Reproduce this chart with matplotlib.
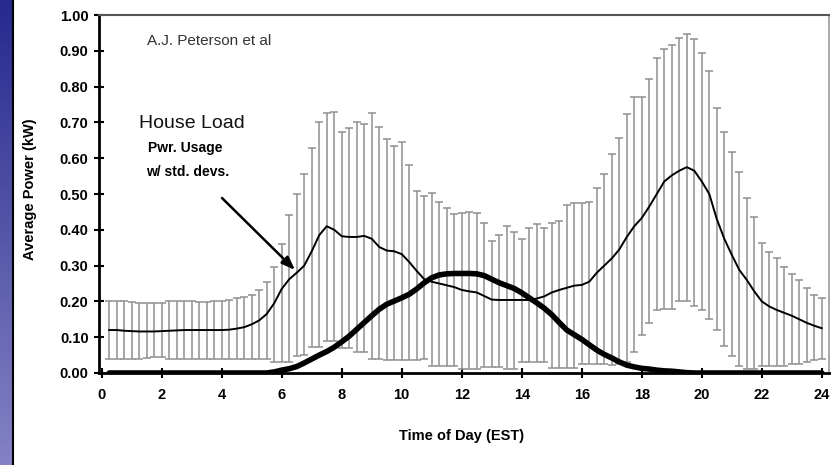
import numpy as np
import matplotlib
matplotlib.use("Agg")
import matplotlib.pyplot as plt
from matplotlib.colors import LinearSegmentedColormap

# time of day, 15 minute steps
hours = [0.25 * (i + 1) for i in range(96)]

# house load mean (kW)
mean_load = [
    0.120, 0.120, 0.118, 0.117, 0.116, 0.116, 0.116, 0.117,
    0.118, 0.119, 0.120, 0.120, 0.120, 0.120, 0.120, 0.120,
    0.121, 0.124, 0.128, 0.136, 0.147, 0.165, 0.195, 0.235,
    0.262, 0.280, 0.300, 0.340, 0.385, 0.410, 0.400, 0.382,
    0.380, 0.380, 0.383, 0.375, 0.352, 0.342, 0.340, 0.332,
    0.310, 0.285, 0.262, 0.255, 0.250, 0.245, 0.240, 0.232,
    0.228, 0.225, 0.215, 0.205, 0.204, 0.204, 0.204, 0.204,
    0.204, 0.208, 0.214, 0.225, 0.232, 0.238, 0.244, 0.246,
    0.255, 0.280, 0.300, 0.320, 0.345, 0.380, 0.410, 0.433,
    0.465, 0.500, 0.535, 0.552, 0.565, 0.575, 0.565, 0.535,
    0.500, 0.430, 0.375, 0.330, 0.288, 0.260, 0.228, 0.200,
    0.186, 0.176, 0.168, 0.160, 0.150, 0.140, 0.132, 0.125,
]

# top of std. dev. bars
upper = [
    0.200, 0.200, 0.200, 0.197, 0.195, 0.195, 0.195, 0.195,
    0.200, 0.200, 0.202, 0.202, 0.198, 0.198, 0.202, 0.202,
    0.205, 0.210, 0.212, 0.218, 0.232, 0.254, 0.296, 0.360,
    0.440, 0.500, 0.555, 0.628, 0.700, 0.726, 0.730, 0.673,
    0.684, 0.700, 0.695, 0.726, 0.687, 0.654, 0.634, 0.645,
    0.581, 0.508, 0.495, 0.503, 0.478, 0.460, 0.444, 0.447,
    0.450, 0.447, 0.419, 0.369, 0.385, 0.410, 0.394, 0.374,
    0.405, 0.416, 0.405, 0.419, 0.425, 0.470, 0.475, 0.475,
    0.478, 0.517, 0.556, 0.612, 0.656, 0.723, 0.770, 0.770,
    0.820, 0.880, 0.905, 0.916, 0.936, 0.947, 0.933, 0.894,
    0.844, 0.740, 0.673, 0.617, 0.561, 0.489, 0.436, 0.363,
    0.338, 0.321, 0.296, 0.276, 0.260, 0.237, 0.218, 0.210,
]

# bottom of std. dev. bars
lower = [
    0.040, 0.040, 0.040, 0.040, 0.040, 0.042, 0.044, 0.044,
    0.040, 0.040, 0.040, 0.040, 0.040, 0.040, 0.040, 0.040,
    0.040, 0.040, 0.040, 0.040, 0.040, 0.040, 0.030, 0.030,
    0.030, 0.047, 0.050, 0.073, 0.073, 0.090, 0.090, 0.070,
    0.070, 0.060, 0.060, 0.040, 0.040, 0.036, 0.036, 0.037,
    0.037, 0.037, 0.040, 0.020, 0.020, 0.020, 0.020, 0.012,
    0.012, 0.012, 0.018, 0.018, 0.018, 0.012, 0.012, 0.030,
    0.030, 0.030, 0.030, 0.015, 0.015, 0.015, 0.015, 0.026,
    0.026, 0.026, 0.026, 0.022, 0.025, 0.030, 0.060, 0.105,
    0.140, 0.175, 0.180, 0.180, 0.200, 0.200, 0.187, 0.175,
    0.152, 0.120, 0.075, 0.047, 0.020, 0.010, 0.010, 0.020,
    0.020, 0.020, 0.020, 0.026, 0.026, 0.030, 0.036, 0.040,
]

# PV output (thick line)
pv = [
    0, 0, 0, 0, 0, 0, 0, 0,
    0, 0, 0, 0, 0, 0, 0, 0,
    0, 0, 0, 0, 0, 0, 0.003, 0.008,
    0.012, 0.018, 0.028, 0.039, 0.050, 0.060, 0.072, 0.087,
    0.103, 0.122, 0.141, 0.160, 0.178, 0.192, 0.201, 0.210,
    0.220, 0.235, 0.252, 0.266, 0.274, 0.277, 0.278, 0.278,
    0.278, 0.277, 0.272, 0.262, 0.252, 0.244, 0.236, 0.224,
    0.210, 0.196, 0.181, 0.163, 0.141, 0.120, 0.107, 0.094,
    0.079, 0.064, 0.052, 0.042, 0.031, 0.022, 0.017, 0.013,
    0.011, 0.008, 0.006, 0.005, 0.003, 0.001, 0, 0,
    0, 0, 0, 0, 0, 0, 0, 0,
    0, 0, 0, 0, 0, 0, 0, 0,
]

xticks = [0, 2, 4, 6, 8, 10, 12, 14, 16, 18, 20, 22, 24]
yticks = [0.0, 0.1, 0.2, 0.3, 0.4, 0.5, 0.6, 0.7, 0.8, 0.9, 1.0]

plt.rcParams['font.family'] = ['Liberation Sans', 'DejaVu Sans']

W, H = 838, 465
fig = plt.figure(figsize=(W / 100, H / 100), dpi=100)

# blue strip on the left
strip = fig.add_axes([0, 0, 12 / W, 1])
cmap = LinearSegmentedColormap.from_list("strip", ["#262a8e", "#8482c4"])
strip.imshow(np.linspace(0, 1, 100).reshape(-1, 1), aspect="auto", cmap=cmap)
strip.axis("off")
fig.add_artist(plt.Line2D([13 / W, 13 / W], [0, 1], color="black", lw=1.5))

ax = fig.add_axes([99 / W, 1 - 373 / H, (829 - 99) / W, (373 - 15) / H])

mean_arr = np.array(mean_load)
yerr = [mean_arr - np.array(lower), np.array(upper) - mean_arr]
ax.errorbar(hours, mean_load, yerr=yerr, fmt="none", ecolor="#8f8f8f",
            elinewidth=1.1, capsize=3, capthick=1.1, zorder=2)
ax.plot(hours, mean_load, color="black", lw=1.4, zorder=3)
ax.plot(hours, pv, color="black", lw=4, solid_capstyle="round", zorder=4)

ax.set_xlim(-0.09, 24.24)
ax.set_ylim(0, 1.0)
ax.set_xticks(xticks)
ax.set_yticks(yticks)
ax.set_yticklabels(["%.2f" % v for v in yticks])
ax.tick_params(axis="both", direction="inout", length=7, width=1.5,
               labelsize=10.5)
ax.tick_params(axis="x", pad=7)
ax.tick_params(axis="y", pad=4)
for lab in ax.get_xticklabels() + ax.get_yticklabels():
    lab.set_fontweight("bold")

ax.spines["left"].set_linewidth(2)
ax.spines["bottom"].set_linewidth(2)
ax.spines["top"].set_color("#555555")
ax.spines["top"].set_linewidth(1.5)
ax.spines["right"].set_color("#999999")
ax.spines["right"].set_linewidth(1.2)

fig.text(462 / W, 1 - 436 / H, "Time of Day (EST)", ha="center", va="center",
         fontsize=10.5, fontweight="bold")
fig.text(30 / W, 1 - 189 / H, "Average Power (kW)", ha="center", va="center",
         rotation=90, fontsize=10.5, fontweight="bold")

fig.text(147 / W, 1 - 41 / H, "A.J. Peterson et al", ha="left", va="center",
         fontsize=11, color="#333333")
fig.text(139 / W, 1 - 124 / H, "House Load", ha="left", va="center",
         fontsize=14, color="#111111")
fig.text(148 / W, 1 - 148 / H, "Pwr. Usage", ha="left", va="center",
         fontsize=10, fontweight="bold")
fig.text(146 / W, 1 - 172 / H, "w/ std. devs.", ha="left", va="center",
         fontsize=10, fontweight="bold")

ax.annotate("", xy=(295 / W, 1 - 270 / H), xycoords="figure fraction",
            xytext=(222 / W, 1 - 198 / H), textcoords="figure fraction",
            arrowprops=dict(arrowstyle="-|>,head_length=0.8,head_width=0.3",
                            color="black", lw=1.8, shrinkA=0, shrinkB=0))

fig.savefig("out.png", dpi=100, facecolor="white")
